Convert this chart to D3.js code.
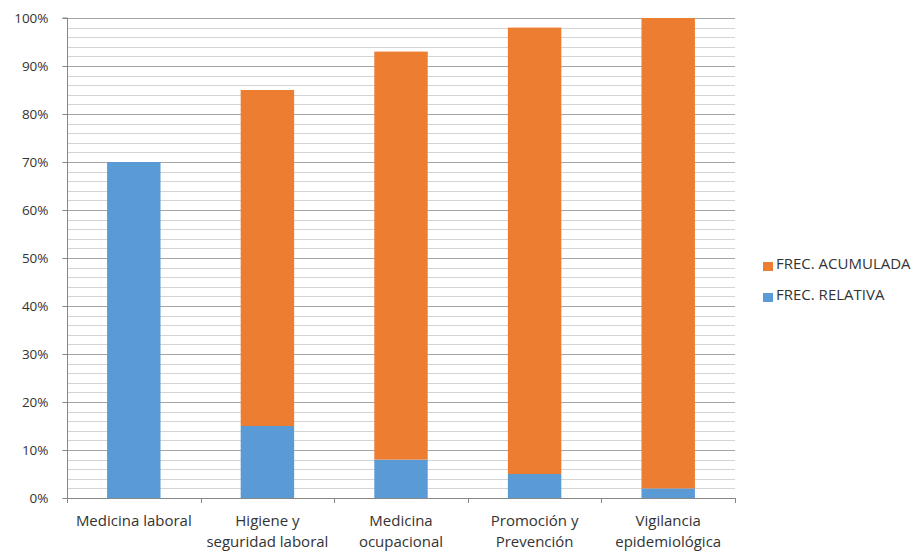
<!DOCTYPE html>
<html><head><meta charset="utf-8">
<script src="https://cdn.jsdelivr.net/npm/d3@7"></script>
<style>body{margin:0;background:#fff}text{font-family:"Open Sans",sans-serif}</style>
</head><body>
<svg id="c" width="916" height="552"></svg>
<script>
const categories = [["Medicina laboral"],["Higiene y","seguridad laboral"],["Medicina","ocupacional"],["Promoción y","Prevención"],["Vigilancia","epidemiológica"]];
const relativa = [0.70, 0.15, 0.08, 0.05, 0.02];
const acumulada = [0.00, 0.70, 0.85, 0.93, 0.98];
const yTicks = [0,0.1,0.2,0.3,0.4,0.5,0.6,0.7,0.8,0.9,1.0];
const seriesNames = ["FREC. ACUMULADA","FREC. RELATIVA"];
const colors = {rel:"#5B9BD5", acu:"#ED7D31"};

const svg = d3.select("#c");
const L=67, R=735, T=18, B=498;
const x = d3.scaleBand().domain(d3.range(categories.length)).range([L,R]).paddingInner(0.6).paddingOuter(0.3);
const xb = d3.scaleBand().domain(d3.range(categories.length)).range([L,R]);
const y = d3.scaleLinear().domain([0,1]).range([B,T]);

// minor grid
const minor = d3.range(0,101,2).map(d=>d/100).filter(d=>Math.round(d*100)%10!==0);
svg.append("g").selectAll("line").data(minor).join("line")
  .attr("x1",L).attr("x2",R).attr("y1",d=>Math.round(y(d))+0.5).attr("y2",d=>Math.round(y(d))+0.5)
  .attr("stroke","#d4d4d4").attr("stroke-width",1);
svg.append("g").selectAll("line").data(yTicks.filter(d=>d>0)).join("line")
  .attr("x1",L).attr("x2",R).attr("y1",d=>Math.round(y(d))+0.5).attr("y2",d=>Math.round(y(d))+0.5)
  .attr("stroke","#a6a6a6").attr("stroke-width",1);

// bars
const g = svg.append("g");
g.selectAll(".rel").data(relativa).join("rect")
  .attr("x",(d,i)=>x(i)).attr("width",x.bandwidth())
  .attr("y",d=>y(d)).attr("height",d=>B-y(d)).attr("fill",colors.rel);
g.selectAll(".acu").data(acumulada).join("rect")
  .attr("x",(d,i)=>x(i)).attr("width",x.bandwidth())
  .attr("y",(d,i)=>y(d+relativa[i])).attr("height",(d,i)=>y(relativa[i])-y(d+relativa[i])).attr("fill",colors.acu);

// axes
const yAxis = d3.axisLeft(y).tickValues(yTicks).tickFormat(d3.format(".0%")).tickSize(5).tickPadding(14);
const ya = svg.append("g").attr("transform",`translate(${L+0.5},0)`).call(yAxis);
ya.select(".domain").attr("stroke","#868686").attr("d",`M-5,${T}H0V${B}`);
ya.selectAll(".tick line").attr("stroke","#868686");
ya.selectAll(".tick text").attr("fill","#333").style("font-size","13.5px").style("font-family","Open Sans");

const xa = svg.append("g");
xa.append("line").attr("x1",L).attr("x2",R).attr("y1",B+0.5).attr("y2",B+0.5).attr("stroke","#868686");
xa.selectAll(".tk").data(d3.range(categories.length+1)).join("line")
  .attr("x1",i=>Math.round(L+i*xb.step())+0.5).attr("x2",i=>Math.round(L+i*xb.step())+0.5)
  .attr("y1",B).attr("y2",B+5).attr("stroke","#868686");
xa.selectAll(".lbl").data(categories).join("text")
  .attr("text-anchor","middle").attr("fill","#333").style("font-size","15px")
  .attr("transform",(d,i)=>`translate(${xb(i)+xb.bandwidth()/2},0)`)
  .each(function(d){
    d3.select(this).selectAll("tspan").data(d).join("tspan").attr("x",0).attr("y",(t,j)=>526+j*21).text(t=>t);
  });

// legend
const leg = svg.append("g");
const legColors=[colors.acu, colors.rel];
seriesNames.forEach((n,i)=>{
  leg.append("rect").attr("x",763).attr("y",262+i*31).attr("width",10).attr("height",9).attr("fill",legColors[i]);
  leg.append("text").attr("x",776).attr("y",269+i*31).attr("fill","#333").style("font-size","15px").text(n);
});
</script>
</body></html>
